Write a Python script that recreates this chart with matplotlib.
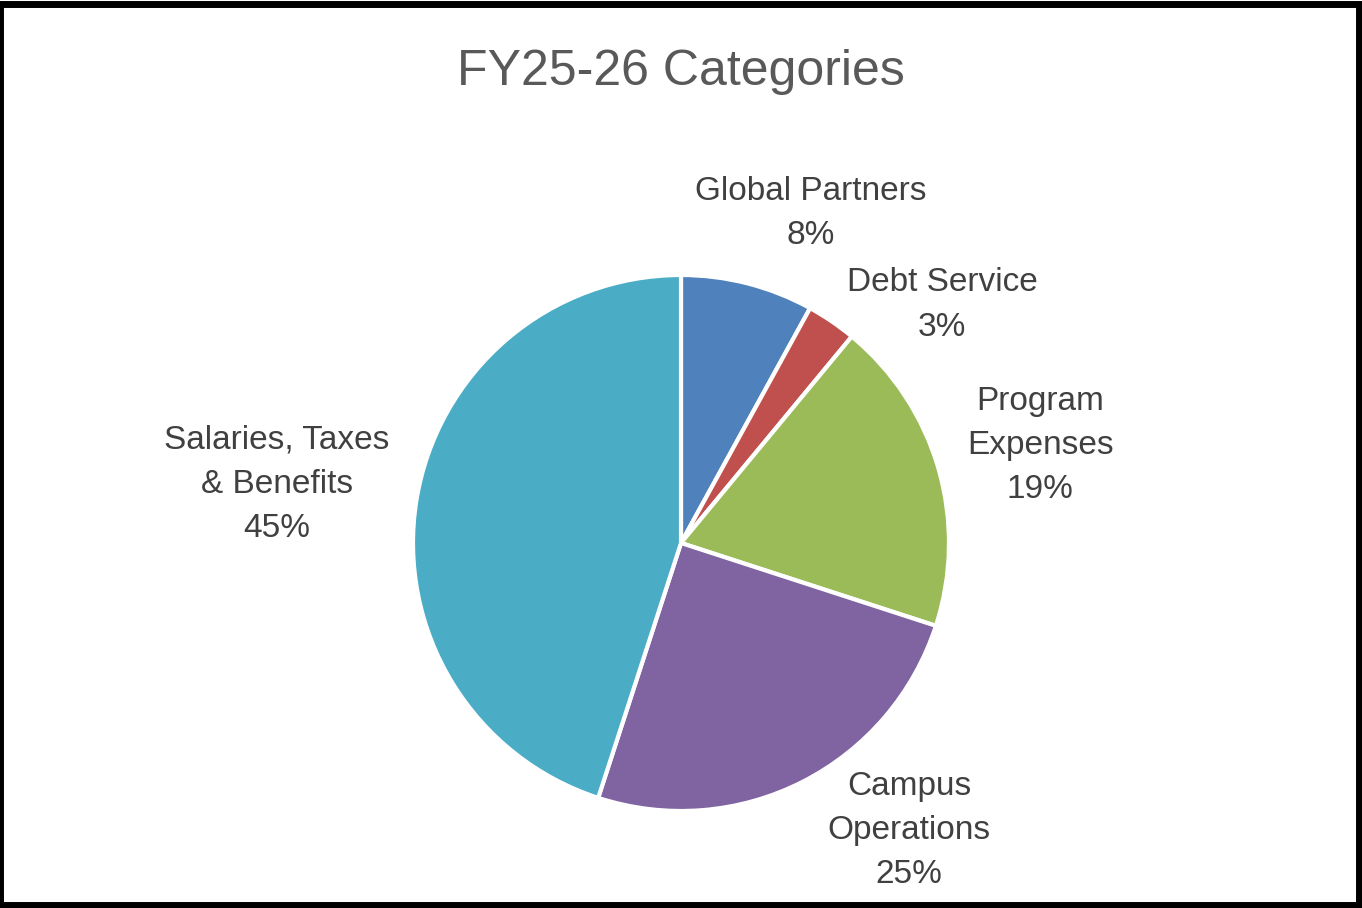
import numpy as np
import matplotlib
matplotlib.use("Agg")
import matplotlib.pyplot as plt
from matplotlib.patches import Rectangle

categories = ["Global Partners", "Debt Service", "Program\nExpenses",
              "Campus\nOperations", "Salaries, Taxes\n& Benefits"]
shares = [8, 3, 19, 25, 45]
colors = ["#4F81BD", "#C0504D", "#9BBB59", "#8064A2", "#4BACC6"]

# label centres in pie-radius units (Excel "best fit" placement)
label_pos = [(0.485, 1.229), (0.974, 0.888), (1.340, 0.364),
             (0.851, -1.073), (-1.507, 0.220)]

TITLE_C = "#595959"
LABEL_C = "#404040"
plt.rcParams["font.family"] = ["Liberation Sans", "DejaVu Sans"]

W, H = 1362, 908
fig = plt.figure(figsize=(W / 100, H / 100), dpi=100, facecolor="white")

cx, cy, r = 681, 543, 268
ax = fig.add_axes([(cx - r) / W, (H - cy - r) / H, 2 * r / W, 2 * r / H])
ax.pie(shares, colors=colors, startangle=90, counterclock=False,
       radius=1, wedgeprops=dict(edgecolor="white", linewidth=3.0))
ax.set_xlim(-1, 1)
ax.set_ylim(-1, 1)
ax.set_aspect("auto")
ax.axis("off")

for name, val, (lx, ly) in zip(categories, shares, label_pos):
    ax.text(lx, ly, f"{name}\n{val}%", ha="center", va="center",
            multialignment="center", fontsize=24, color=LABEL_C,
            linespacing=1.55, clip_on=False)

fig.text(0.5, 1 - 72 / H, "FY25-26 Categories", ha="center", va="center",
         fontsize=36, color=TITLE_C)

# black frame around the chart area
fig.patches.append(Rectangle((0, 3.5 / H), 1358.5 / W, 1 - 7 / H,
                             transform=fig.transFigure, fill=False,
                             edgecolor="black", linewidth=5.0))

fig.savefig("out.png", dpi=100, facecolor="white")
